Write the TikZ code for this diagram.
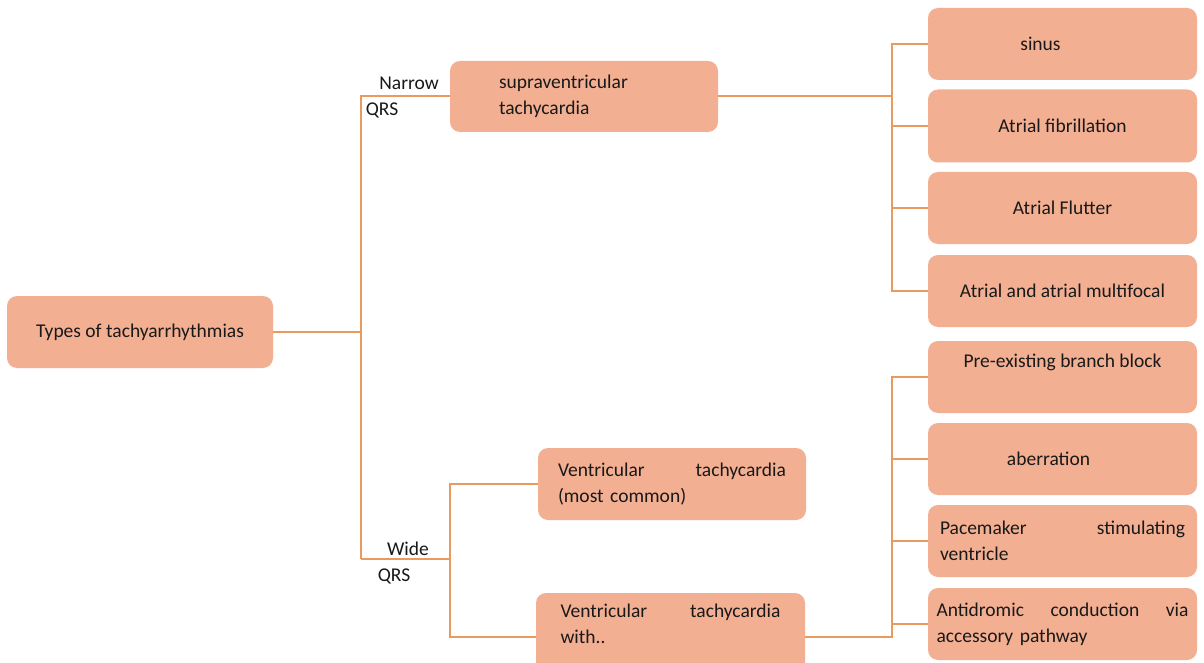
\documentclass[tikz,border=0pt]{standalone}
\usepackage{fontspec}
\setmainfont{Carlito}
\begin{document}
\begin{tikzpicture}[x=1pt,y=-1pt,
  box/.style={fill=boxfill, rounded corners=10pt, inner sep=0pt, text=black!90,
    font=\fontsize{19.5}{26}\selectfont},
  conn/.style={draw=linecol, line width=2pt},
  lbl/.style={font=\fontsize{19.5}{26}\selectfont, text=black!90, inner sep=0pt}]
\definecolor{boxfill}{HTML}{F3AF92}
\definecolor{linecol}{HTML}{E99A5E}
\useasboundingbox[fill=white] (0,0) rectangle (1204,663);

% nodes
\node[box, minimum width=266pt, minimum height=72pt] (types) at (140,332) {Types of tachyarrhythmias};
\node[box, minimum width=268pt, minimum height=71pt, text width=170pt, align=left] (supra) at (584,96.5) {supraventricular\\tachycardia};
\node[box, minimum width=268pt, minimum height=72pt, text width=228pt, align=left] (vt1) at (672,484) {Ventricular\hfill tachycardia\\(most common)};
\node[box, minimum width=269pt, minimum height=88pt, text width=220pt, align=left] (vt2) at (670.5,637) {Ventricular\hfill tachycardia\\with..\\\mbox{}};

\node[box, minimum width=269pt, minimum height=72pt] (sinus) at (1062.5,44) {\hspace*{-44pt}sinus};
\node[box, minimum width=269pt, minimum height=73pt] (afib) at (1062.5,126) {Atrial fibrillation};
\node[box, minimum width=269pt, minimum height=72pt] (flutter) at (1062.5,208) {Atrial Flutter};
\node[box, minimum width=269pt, minimum height=72pt] (multi) at (1062.5,291) {Atrial and atrial multifocal};

\node[box, minimum width=269pt, minimum height=72pt, align=center] (pre) at (1062.5,377) {Pre-existing branch block\\[6pt]\mbox{}};
\node[box, minimum width=269pt, minimum height=72pt] (aber) at (1062.5,459) {\hspace*{-28pt}aberration};
\node[box, minimum width=269pt, minimum height=72pt, text width=245pt, align=left] (pace) at (1062.5,541) {Pacemaker\hfill stimulating\\ventricle};
\node[box, minimum width=269pt, minimum height=72pt, text width=252pt, align=left] (anti) at (1062.5,624) {Antidromic\hfill conduction\hfill via\\accessory pathway};

% labels
\node[lbl] (narrow) at (409,83) {Narrow};
\node[lbl] (qrs1) at (382,110) {QRS};
\node[lbl] (wide) at (408,549) {Wide};
\node[lbl] (qrs2) at (394,576) {QRS};

% coordinates for buses
\coordinate (t2) at (361,559);
\coordinate (wb) at (450,0);
\coordinate (ub) at (892,0);

% connectors
\draw[conn] (types.east) -- (types.east -| t2);
\draw[conn] (supra.west) -| (t2);
\draw[conn] (t2) -- (t2 -| wb);
\draw[conn] (vt1.west) -- (vt1.west -| wb) -- (vt2.west -| wb) -- (vt2.west);

\draw[conn] (supra.east) -- (supra.east -| ub);
\draw[conn] (sinus.west) -- (sinus.west -| ub) -- (multi.west -| ub) -- (multi.west);
\draw[conn] (afib.west) -- (afib.west -| ub);
\draw[conn] (flutter.west) -- (flutter.west -| ub);

\draw[conn] (pre.west) -- (pre.west -| ub) -- (vt2.east -| ub) -- (vt2.east);
\draw[conn] (aber.west) -- (aber.west -| ub);
\draw[conn] (pace.west) -- (pace.west -| ub);
\draw[conn] (anti.west) -- (anti.west -| ub);
\end{tikzpicture}
\end{document}
